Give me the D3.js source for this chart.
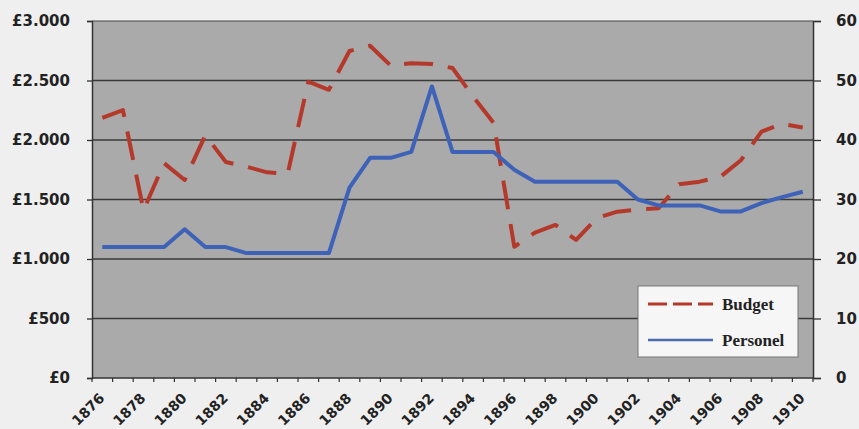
<!DOCTYPE html>
<html><head><meta charset="utf-8">
<script src="https://cdn.jsdelivr.net/npm/d3@7/dist/d3.min.js"></script>
<style>
html,body{margin:0;padding:0;background:#efefef;}
svg{display:block;}
</style></head>
<body>
<svg id="chart" width="859" height="429"></svg>
<script>
const years = [1876,1877,1878,1879,1880,1881,1882,1883,1884,1885,1886,1887,1888,1889,1890,1891,1892,1893,1894,1895,1896,1897,1898,1899,1900,1901,1902,1903,1904,1905,1906,1907,1908,1909,1910];
const budget = [2185,2252,1410,1805,1664,2040,1815,1776,1728,1718,2490,2422,2748,2792,2625,2645,2638,2605,2365,2143,1103,1222,1286,1160,1343,1398,1416,1426,1628,1650,1690,1830,2070,2135,2105];
const personel = [22,22,22,22,25,22,22,21,21,21,21,21,32,37,37,38,49,38,38,38,35,33,33,33,33,33,30,29,29,29,28,28,29.4,30.4,31.3];
const leftTicks = [0,500,1000,1500,2000,2500,3000];
const leftLabels = ["£0","£500","£1.000","£1.500","£2.000","£2.500","£3.000"];
const rightTicks = [0,10,20,30,40,50,60];
const xLabelYears = [1876,1878,1880,1882,1884,1886,1888,1890,1892,1894,1896,1898,1900,1902,1904,1906,1908,1910];
const seriesNames = ["Budget","Personel"];

const svg = d3.select("#chart");
const L = 92, R = 813, T = 21, B = 378;
const x = d3.scaleBand().domain(years).range([L, R]).padding(0);
const cx = d => x(d) + x.bandwidth()/2;
const yL = d3.scaleLinear().domain([0,3000]).range([B,T]);
const yR = d3.scaleLinear().domain([0,60]).range([B,T]);

// plot area
svg.append("rect").attr("x",L).attr("y",T).attr("width",R-L).attr("height",B-T).attr("fill","#aaaaaa");

// gridlines
svg.append("g").selectAll("line").data(leftTicks.filter(v=>v>0 && v<3000)).join("line")
  .attr("x1",L).attr("x2",R).attr("y1",d=>yL(d)).attr("y2",d=>yL(d))
  .attr("stroke","#3a3a3a").attr("stroke-width",1.3);

// left axis
const gl = svg.append("g").attr("transform",`translate(${L},0)`)
  .call(d3.axisLeft(yL).tickValues(leftTicks).tickSize(5).tickFormat((d,i)=>leftLabels[i]));
gl.select(".domain").attr("stroke","#333").attr("stroke-width",1.5);
gl.selectAll(".tick line").attr("stroke","#333").attr("stroke-width",1.3);
gl.selectAll("text").attr("x",-22).attr("fill","#222")
  .style("font-family","DejaVu Sans").style("font-weight","bold").style("font-size","15px");

// right axis
const gr = svg.append("g").attr("transform",`translate(${R},0)`)
  .call(d3.axisRight(yR).tickValues(rightTicks).tickSize(8));
gr.select(".domain").attr("stroke","#333").attr("stroke-width",1.5);
gr.selectAll(".tick line").attr("stroke","#333").attr("stroke-width",1.3);
gr.selectAll("text").attr("x",23).attr("fill","#222")
  .style("font-family","DejaVu Sans").style("font-weight","bold").style("font-size","15px");

// top border
svg.append("line").attr("x1",L).attr("x2",R).attr("y1",T).attr("y2",T).attr("stroke","#444").attr("stroke-width",1.2);

// bottom axis
svg.append("line").attr("x1",L).attr("x2",R).attr("y1",B).attr("y2",B).attr("stroke","#333").attr("stroke-width",1.5);
const bounds = years.map(d=>x(d)).concat([R]);
svg.append("g").selectAll("line").data(bounds).join("line")
  .attr("x1",d=>d).attr("x2",d=>d).attr("y1",B).attr("y2",B+4)
  .attr("stroke","#333").attr("stroke-width",1.2);
svg.append("g").selectAll("text").data(xLabelYears).join("text")
  .attr("transform",d=>`translate(${cx(d)+3},399) rotate(-45)`)
  .attr("text-anchor","end").attr("fill","#222")
  .style("font-family","DejaVu Sans").style("font-weight","bold").style("font-size","14px")
  .text(d=>d);

// lines
const lineB = d3.line().x((d,i)=>cx(years[i])).y(d=>yL(d));
const lineP = d3.line().x((d,i)=>cx(years[i])).y(d=>yR(d));
svg.append("path").datum(budget).attr("d",lineB).attr("fill","none")
  .attr("stroke","#b5392b").attr("stroke-width",4).attr("stroke-dasharray","29,15").attr("stroke-linejoin","round");
svg.append("path").datum(personel).attr("d",lineP).attr("fill","none")
  .attr("stroke","#3d62b8").attr("stroke-width",4).attr("stroke-linejoin","round");

// legend
const lg = svg.append("g");
lg.append("rect").attr("x",638).attr("y",286).attr("width",160).attr("height",71)
  .attr("fill","#f6f6f6").attr("stroke","#777").attr("stroke-width",1);
lg.append("line").attr("x1",648).attr("x2",713).attr("y1",304).attr("y2",304)
  .attr("stroke","#b5392b").attr("stroke-width",3).attr("stroke-dasharray","19,6");
lg.append("line").attr("x1",648).attr("x2",713).attr("y1",340).attr("y2",340)
  .attr("stroke","#4a6aae").attr("stroke-width",2.5);
lg.selectAll("text").data(seriesNames).join("text")
  .attr("x",722).attr("y",(d,i)=>i===0?310:346).attr("fill","#222")
  .style("font-family","Liberation Serif").style("font-weight","bold").style("font-size","17px")
  .text(d=>d);
</script>
</body></html>
